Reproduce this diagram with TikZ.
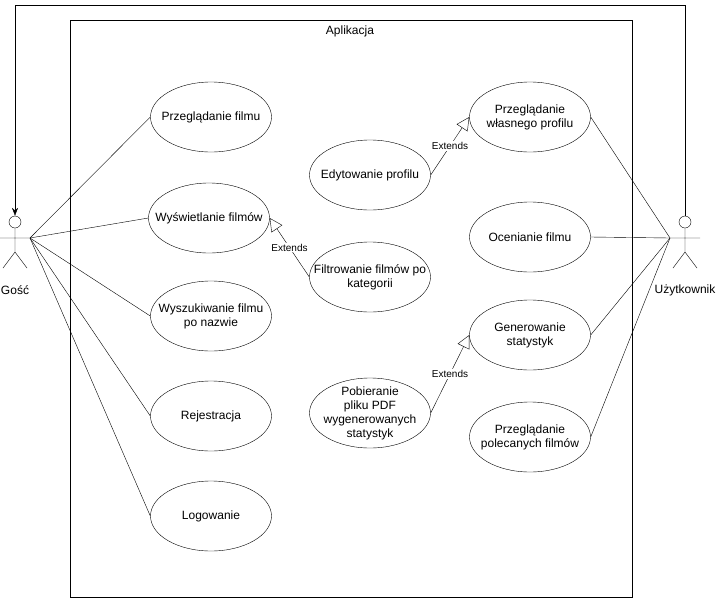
\documentclass[tikz,border=0pt]{standalone}
\usepackage{fontspec}
\setmainfont{Liberation Sans}
\usetikzlibrary{arrows.meta, shapes.geometric}
\begin{document}
\begin{tikzpicture}[x=1pt, y=-1pt, font=\fontsize{12}{14}\selectfont,
  usecase/.style={draw, ellipse, minimum width=121pt, minimum height=70pt,
    inner sep=0pt, label={[align=center]center:#1}},
  ext/.style={-{Triangle[open, length=13pt, width=13pt]}},
  lbl/.style={fill=white, inner sep=1pt, font=\fontsize{10}{12}\selectfont}]
  \useasboundingbox (0,0) rectangle (716,598);
  % system boundary
  \draw (70,20) rectangle (632,597);
  \node at (350,31) {Aplikacja};

  % actors
  \foreach \ax/\hx/\nm/\txt in {15/30/guest/Gość, 685/670/user/Użytkownik} {
    \node[draw, circle, minimum size=12pt, inner sep=0pt] (\nm) at (\ax,222) {};
    \draw (\ax,228) -- (\ax,252) (\ax-15,238) -- (\ax+15,238)
      (\ax-12,268) -- (\ax,252) -- (\ax+12,268);
    \coordinate (\nm hand) at (\hx,238);
    \node at (\ax,290) {\txt};
  }

  % use cases
  \node[usecase={Przeglądanie filmu}] (browse) at (211,117) {};
  \node[usecase={Wyświetlanie filmów}] (show) at (209,218) {};
  \node[usecase={Wyszukiwanie filmu\\po nazwie}] (search) at (211,316) {};
  \node[usecase={Rejestracja}] (register) at (211,416) {};
  \node[usecase={Logowanie}] (login) at (211,516) {};
  \node[usecase={Edytowanie profilu}] (edit) at (370,175) {};
  \node[usecase={Filtrowanie filmów po\\kategorii}] (filter) at (370,277) {};
  \node[usecase={Pobieranie\\pliku PDF\\wygenerowanych\\statystyk}] (pdf) at (370,413) {};
  \node[usecase={Przeglądanie\\własnego profilu}] (profile) at (530,117) {};
  \node[usecase={Ocenianie filmu}] (rate) at (530,237) {};
  \node[usecase={Generowanie\\statystyk}] (stats) at (530,335) {};
  \node[usecase={Przeglądanie\\polecanych filmów}] (recom) at (530,437) {};

  % associations
  \foreach \uc in {browse, show, search, register, login}
    \draw (guesthand) -- (\uc.west);
  \foreach \uc in {profile, rate, stats, recom}
    \draw (userhand) -- (\uc.east);
  \draw[-{Stealth[length=8pt]}] (user.north) -- (685,5) -- (15,5) -- (guest.north);

  % extends
  \draw[ext] (filter.west) -- node[lbl, pos=0.5] {Extends} (show.east);
  \draw[ext] (edit.east) -- node[lbl, pos=0.5] {Extends} (profile.west);
  \draw[ext] (pdf.east) -- node[lbl, pos=0.5] {Extends} (stats.west);
\end{tikzpicture}
\end{document}
